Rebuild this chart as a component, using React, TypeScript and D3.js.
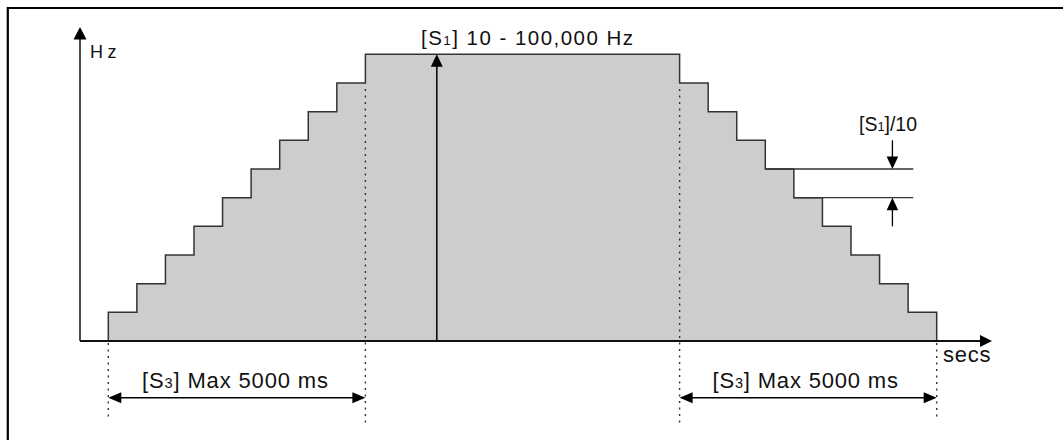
import React from "react";
import * as d3 from "d3";

// ---- data (time in step units, level in steps of [S1]/10) ----
const stepTimes = [0, 1, 2, 3, 4, 5, 6, 7, 8, 9, 20, 21, 22, 23, 24, 25, 26, 27, 28, 29];
const stepLevels = [1, 2, 3, 4, 5, 6, 7, 8, 9, 10, 9, 8, 7, 6, 5, 4, 3, 2, 1, 1];
const rampUp = [0, 9];
const rampDown = [20, 29];
const maxLevel = 10;
const peakArrowTime = 11.5;
const deltaArrowTime = 27.45;
const deltaLineEnd = 28.18;
const deltaLevels = [6, 5];

const labelTop = ["[S", "1", "] 10 - 100,000 Hz"];
const labelRamp = ["[S", "3", "] Max 5000 ms"];
const labelDelta = ["[S", "1", "]/10"];
const labelY = "Hz";
const labelX = "secs";

const W = 1063;
const H = 440;
const FONT = "'Liberation Sans', Arial, Helvetica, sans-serif";

export default function App() {
  const x = d3.scaleLinear().domain([0, 29]).range([108.3, 936.7]);
  const y = d3.scaleLinear().domain([0, maxLevel]).range([341, 54.3]);

  const pts = stepTimes.map((t, i) => [t, stepLevels[i]] as [number, number]);
  const area = d3
    .area<[number, number]>()
    .x((d) => x(d[0]))
    .y0(y(0))
    .y1((d) => y(d[1]))
    .curve(d3.curveStepAfter)(pts) as string;

  const axisX0 = 80;
  const axisXEnd = 992;
  const axisYTop = 27;
  const base = y(0);

  const arrowHead = (tx: number, ty: number, dir: "up" | "down" | "left" | "right", len = 12, hw = 6) => {
    let p = "";
    if (dir === "up") p = `M${tx},${ty} L${tx - hw},${ty + len} L${tx + hw},${ty + len} Z`;
    if (dir === "down") p = `M${tx},${ty} L${tx - hw},${ty - len} L${tx + hw},${ty - len} Z`;
    if (dir === "right") p = `M${tx},${ty} L${tx - len},${ty - hw} L${tx - len},${ty + hw} Z`;
    if (dir === "left") p = `M${tx},${ty} L${tx + len},${ty - hw} L${tx + len},${ty + hw} Z`;
    return <path d={p} fill="#000" />;
  };

  const dimY = 397.7;
  const dotted = { stroke: "#333", strokeWidth: 1.4, strokeDasharray: "2,4.5" };

  const subText = (parts: string[], tx: number, ty: number, size: number, len: number) => (
    <text x={tx} y={ty} fontSize={size} fontFamily={FONT} fill="#111" textLength={len} lengthAdjust="spacing">
      {parts[0]}
      <tspan fontSize={size * 0.66}>{parts[1]}</tspan>
      {parts[2]}
    </text>
  );

  const ax = x(deltaArrowTime);

  return (
    <svg
      width={W}
      height={H}
      style={{ position: "absolute", left: 0, top: 0, background: "#fff" }}
    >
      {/* frame */}
      <line x1={7} y1={8} x2={W} y2={8} stroke="#000" strokeWidth={2.2} />
      <line x1={7.8} y1={7} x2={7.8} y2={H} stroke="#000" strokeWidth={2.2} />

      {/* step profile */}
      <path d={area} fill="#cdcdcd" stroke="#333" strokeWidth={1.5} />

      {/* dotted guides */}
      <line x1={x(rampUp[0])} y1={base + 2} x2={x(rampUp[0])} y2={420} {...dotted} />
      <line x1={x(rampUp[1])} y1={y(9) + 6} x2={x(rampUp[1])} y2={425} {...dotted} />
      <line x1={x(rampDown[0])} y1={y(9) + 6} x2={x(rampDown[0])} y2={424} {...dotted} />
      <line x1={x(rampDown[1])} y1={base + 2} x2={x(rampDown[1])} y2={420} {...dotted} />

      {/* axes */}
      <line x1={axisX0} y1={base} x2={axisXEnd - 10} y2={base} stroke="#111" strokeWidth={2} />
      {arrowHead(axisXEnd, base, "right", 12, 6)}
      <line x1={axisX0} y1={base} x2={axisX0} y2={axisYTop + 8} stroke="#111" strokeWidth={1.5} />
      {arrowHead(axisX0, axisYTop, "up", 12.5, 6.5)}
      <text x={90} y={57.5} fontSize={18} fontFamily={FONT} fill="#111" textLength={26.5} lengthAdjust="spacing">
        {labelY}
      </text>
      <text x={943} y={361.5} fontSize={22} fontFamily={FONT} fill="#111" textLength={47.5} lengthAdjust="spacing">
        {labelX}
      </text>

      {/* peak arrow */}
      <line x1={x(peakArrowTime)} y1={base} x2={x(peakArrowTime)} y2={y(maxLevel) + 8} stroke="#000" strokeWidth={1.5} />
      {arrowHead(x(peakArrowTime), y(maxLevel), "up", 12.5, 6)}
      {subText(labelTop, 421, 44.5, 20.5, 212)}

      {/* delta annotation */}
      <line x1={x(23)} y1={y(deltaLevels[0])} x2={x(deltaLineEnd)} y2={y(deltaLevels[0])} stroke="#333" strokeWidth={1.3} />
      <line x1={x(24)} y1={y(deltaLevels[1])} x2={x(deltaLineEnd)} y2={y(deltaLevels[1])} stroke="#333" strokeWidth={1.3} />
      <line x1={ax} y1={y(deltaLevels[0] + 1)} x2={ax} y2={y(deltaLevels[0]) - 8} stroke="#000" strokeWidth={1.3} />
      {arrowHead(ax, y(deltaLevels[0]), "down", 12.5, 5.8)}
      <line x1={ax} y1={y(deltaLevels[1] - 1)} x2={ax} y2={y(deltaLevels[1]) + 8} stroke="#000" strokeWidth={1.3} />
      {arrowHead(ax, y(deltaLevels[1]), "up", 12.5, 5.8)}
      {subText(labelDelta, 859, 131, 19.5, 58)}

      {/* ramp dimensions */}
      <line x1={x(rampUp[0]) + 8} y1={dimY} x2={x(rampUp[1]) - 8} y2={dimY} stroke="#000" strokeWidth={1.5} />
      {arrowHead(x(rampUp[0]), dimY, "left", 13, 5.5)}
      {arrowHead(x(rampUp[1]), dimY, "right", 13, 5.5)}
      {subText(labelRamp, 142, 387.5, 22, 186)}

      <line x1={x(rampDown[0]) + 8} y1={dimY} x2={x(rampDown[1]) - 8} y2={dimY} stroke="#000" strokeWidth={1.5} />
      {arrowHead(x(rampDown[0]), dimY, "left", 13, 5.5)}
      {arrowHead(x(rampDown[1]), dimY, "right", 13, 5.5)}
      {subText(labelRamp, 712.5, 387.5, 22, 185.5)}
    </svg>
  );
}
